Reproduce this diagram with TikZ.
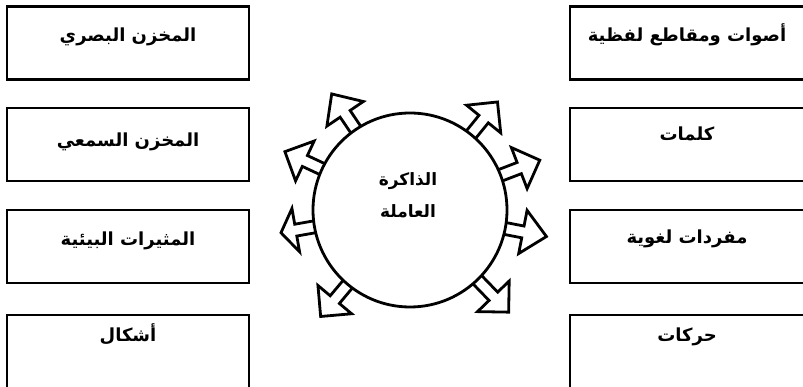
\documentclass[tikz,border=0pt]{standalone}
\usepackage{fontspec}
\newfontfamily\arabicfont[Script=Arabic]{DejaVu Sans}
\TeXXeTstate=1

\begin{document}
\begin{tikzpicture}[x=1pt, y=1pt,
    box/.style={draw, line width=2.8pt, minimum width=242pt, minimum height=73pt,
                inner sep=0pt},
    lowbox/.style={box, minimum height=80pt},
    txt/.style={font=\arabicfont\bfseries\fontsize{18}{22}\selectfont, anchor=base},
    mem/.style={draw, circle, line width=2.8pt, fill=white, minimum size=194pt},
    blockarrow/.style={draw, line width=2.8pt, fill=white, line join=miter}]

  %% page frame
  \clip (0,0) rectangle (803,387);

  %% left column
  \node[box]    (vis)  at (128,344)   {};
  \node[box]    (aud)  at (128,242.5) {};
  \node[box]    (env)  at (128,140.5) {};
  \node[lowbox] (shp)  at (128,32)    {};
  \node[txt] (visT) at (128,345) {\beginR المخزن البصري\endR};
  \node[txt] (audT) at (128,240) {\beginR المخزن السمعي\endR};
  \node[txt] (envT) at (128,141) {\beginR المثيرات البيئية\endR};
  \node[txt] (shpT) at (128,45)  {\beginR أشكال\endR};

  %% right column
  \node[box]    (snd)  at (691,344)   {};
  \node[box]    (wrd)  at (691,242.5) {};
  \node[box]    (voc)  at (691,140.5) {};
  \node[lowbox] (mov)  at (691,32)    {};
  \node[txt] (sndT) at (687,345) {\beginR أصوات ومقاطع لفظية\endR};
  \node[txt] (wrdT) at (687,246) {\beginR كلمات\endR};
  \node[txt] (vocT) at (687,143) {\beginR مفردات لغوية\endR};
  \node[txt] (movT) at (687,45)  {\beginR حركات\endR};

  %% working memory with its arrows (angle / tip distance / head length)
  \coordinate (wmc) at (410,177);
  \foreach \a/\r/\h in {124/140/24,155/138/22,190/131/15,230/139/22,
                        51/139/22,21/139/22,-11/139/24,-46/142/22}
    \draw[blockarrow, shift={(wmc)}, rotate=\a]
      (85,-6) -- (\r-\h,-6) -- (\r-\h,-22) -- (\r,0) -- (\r-\h,22) -- (\r-\h,6) -- (85,6) -- cycle;
  \node[mem] (wm) at (wmc) {};
  \node[txt, anchor=center, align=center, font=\arabicfont\bfseries\fontsize{17}{21}\selectfont]
    (wmT) at (408,192)
    {\beginR الذاكرة\endR\\[11pt]\beginR العاملة\endR};

\end{tikzpicture}
\end{document}
